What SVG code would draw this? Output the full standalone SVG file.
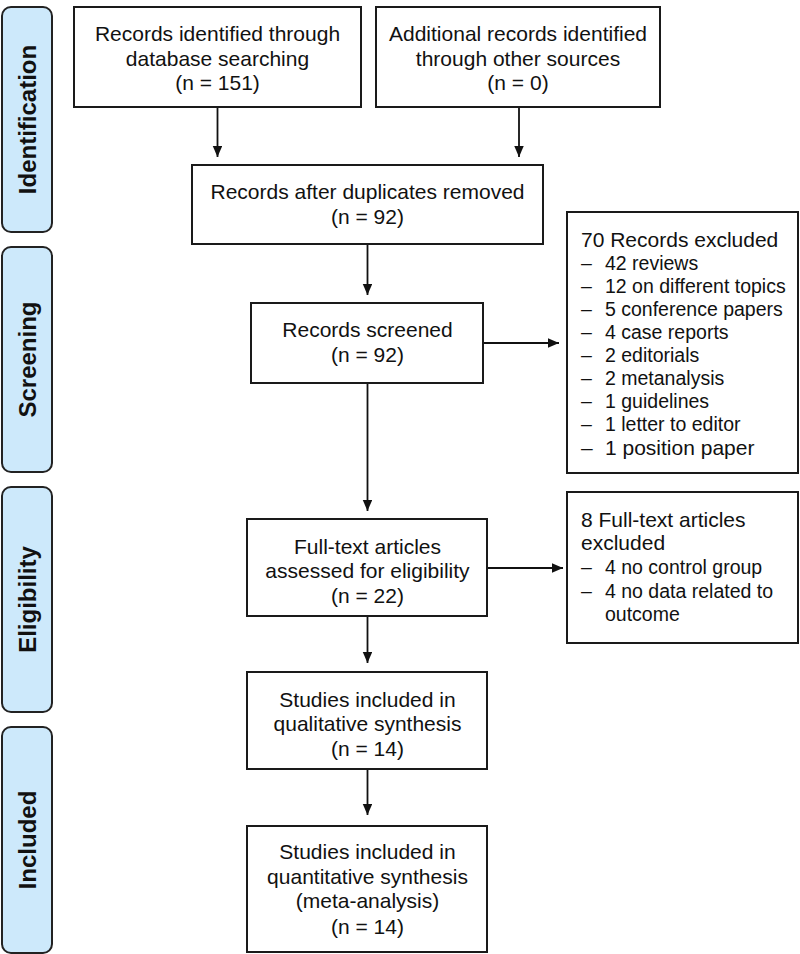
<svg xmlns="http://www.w3.org/2000/svg" width="800" height="954" viewBox="0 0 800 954">
<defs>
<marker id="ah" markerUnits="userSpaceOnUse" markerWidth="12" markerHeight="10" refX="11" refY="4.75" orient="auto">
<path d="M0,0 L11,4.75 L0,9.5 z" fill="#111"/>
</marker>
<style>
.box{fill:#fff;stroke:#1a1a1a;stroke-width:2}
.side{fill:#cde9fb;stroke:#222;stroke-width:2}
.t{font-family:"Liberation Sans",Arial,sans-serif;font-size:21px;fill:#111}
.i{font-size:19.5px}
.c{text-anchor:middle}
.s{font-family:"Liberation Sans",Arial,sans-serif;font-size:24px;font-weight:bold;fill:#111;text-anchor:middle}
.ln{stroke:#111;stroke-width:1.8;fill:none;marker-end:url(#ah)}
</style>
</defs>
<rect width="800" height="954" fill="#fff"/>

<g id="phase-identification">
<rect class="side" x="2" y="7" width="50" height="225" rx="9"/>
<text class="s" transform="translate(36,119.5) rotate(-90)">Identification</text>
</g>
<g id="phase-screening">
<rect class="side" x="2" y="247" width="50" height="225" rx="9"/>
<text class="s" transform="translate(36,359.5) rotate(-90)">Screening</text>
</g>
<g id="phase-eligibility">
<rect class="side" x="2" y="487" width="50" height="225" rx="9"/>
<text class="s" transform="translate(36,599.5) rotate(-90)">Eligibility</text>
</g>
<g id="phase-included">
<rect class="side" x="2" y="727" width="50" height="226" rx="9"/>
<text class="s" transform="translate(36,840) rotate(-90)">Included</text>
</g>

<g id="connectors">
<line class="ln" x1="217.5" y1="107" x2="217.5" y2="157"/>
<line class="ln" x1="519" y1="107" x2="519" y2="157"/>
<line class="ln" x1="367.5" y1="244" x2="367.5" y2="295"/>
<line class="ln" x1="367.5" y1="383" x2="367.5" y2="511"/>
<line class="ln" x1="483" y1="343" x2="559" y2="343"/>
<line class="ln" x1="487" y1="568" x2="563" y2="568"/>
<line class="ln" x1="367.5" y1="616" x2="367.5" y2="663"/>
<line class="ln" x1="367.5" y1="769" x2="367.5" y2="815"/>
</g>

<g id="n-database">
<rect class="box" x="74" y="7" width="287" height="100"/>
<text class="t c" x="217.5" y="41">Records identified through</text>
<text class="t c" x="217.5" y="66">database searching</text>
<text class="t c" x="217.5" y="90">(n = 151)</text>
</g>
<g id="n-other">
<rect class="box" x="376" y="7" width="284" height="100"/>
<text class="t c" x="518" y="41">Additional records identified</text>
<text class="t c" x="518" y="66">through other sources</text>
<text class="t c" x="518" y="90">(n = 0)</text>
</g>
<g id="n-dedup">
<rect class="box" x="192" y="165" width="351" height="79"/>
<text class="t c" x="367.5" y="199">Records after duplicates removed</text>
<text class="t c" x="367.5" y="224">(n = 92)</text>
</g>
<g id="n-screened">
<rect class="box" x="251" y="303" width="232" height="80"/>
<text class="t c" x="367.5" y="337">Records screened</text>
<text class="t c" x="367.5" y="362">(n = 92)</text>
</g>
<g id="n-excluded1">
<rect class="box" x="567" y="212" width="231" height="261"/>
<text class="t" x="581" y="247">70 Records excluded</text>
<text class="t i" x="581" y="270">–</text><text class="t i" x="605" y="270">42 reviews</text>
<text class="t i" x="581" y="293">–</text><text class="t i" x="605" y="293">12 on different topics</text>
<text class="t i" x="581" y="316">–</text><text class="t i" x="605" y="316">5 conference papers</text>
<text class="t i" x="581" y="339">–</text><text class="t i" x="605" y="339">4 case reports</text>
<text class="t i" x="581" y="362">–</text><text class="t i" x="605" y="362">2 editorials</text>
<text class="t i" x="581" y="385">–</text><text class="t i" x="605" y="385">2 metanalysis</text>
<text class="t i" x="581" y="408">–</text><text class="t i" x="605" y="408">1 guidelines</text>
<text class="t i" x="581" y="431">–</text><text class="t i" x="605" y="431">1 letter to editor</text>
<text class="t" x="581" y="455">–</text><text class="t" x="605" y="455">1 position paper</text>
</g>
<g id="n-fulltext">
<rect class="box" x="247" y="519" width="240" height="97"/>
<text class="t c" x="367.5" y="554">Full-text articles</text>
<text class="t c" x="367.5" y="578">assessed for eligibility</text>
<text class="t c" x="367.5" y="603">(n = 22)</text>
</g>
<g id="n-excluded2">
<rect class="box" x="567" y="492" width="231" height="151"/>
<text class="t" x="581" y="527">8 Full-text articles</text>
<text class="t" x="581" y="550">excluded</text>
<text class="t i" x="581" y="574">–</text><text class="t i" x="605" y="574">4 no control group</text>
<text class="t i" x="581" y="598">–</text><text class="t i" x="605" y="598">4 no data related to</text>
<text class="t i" x="605" y="621">outcome</text>
</g>
<g id="n-qualitative">
<rect class="box" x="247" y="672" width="240" height="97"/>
<text class="t c" x="367.5" y="707">Studies included in</text>
<text class="t c" x="367.5" y="731">qualitative synthesis</text>
<text class="t c" x="367.5" y="756">(n = 14)</text>
</g>
<g id="n-quantitative">
<rect class="box" x="247" y="826" width="240" height="126"/>
<text class="t c" x="367.5" y="859">Studies included in</text>
<text class="t c" x="367.5" y="884">quantitative synthesis</text>
<text class="t c" x="367.5" y="908">(meta-analysis)</text>
<text class="t c" x="367.5" y="934">(n = 14)</text>
</g>
</svg>
